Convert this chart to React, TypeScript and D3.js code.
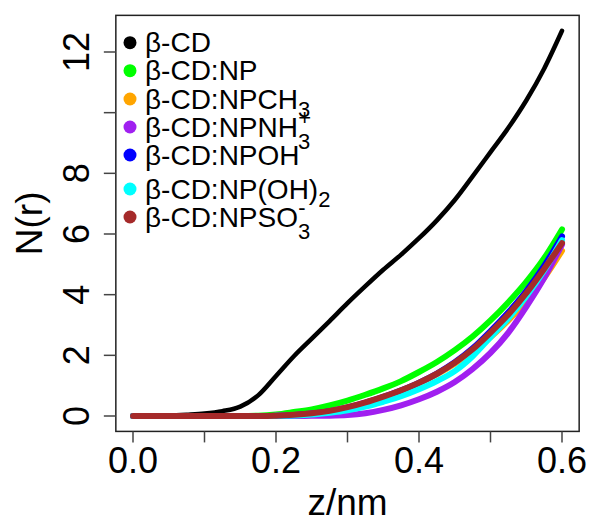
import React from 'react';
import * as d3 from 'd3';

// distance along z (nm)
const zValues = [
  0, 0.025, 0.05, 0.075, 0.1, 0.125, 0.15, 0.175, 0.2, 0.225, 0.25, 0.275, 0.3,
  0.325, 0.35, 0.375, 0.4, 0.425, 0.45, 0.475, 0.5, 0.525, 0.55, 0.575, 0.6,
];

// N(r) for each system
const nBCD = [
  0, 0, 0.01, 0.04, 0.08, 0.16, 0.31, 0.68, 1.32, 1.97, 2.55, 3.13, 3.72,
  4.28, 4.82, 5.32, 5.86, 6.45, 7.12, 7.9, 8.7, 9.5, 10.4, 11.45, 12.7,
];
const nNP = [
  0, 0, 0, 0, 0, 0, 0, 0.01, 0.05, 0.13, 0.22, 0.35, 0.51,
  0.7, 0.91, 1.15, 1.45, 1.78, 2.17, 2.62, 3.15, 3.75, 4.42, 5.2, 6.15,
];
const nNPCH3 = [
  0, 0, 0, 0, 0, 0, 0, 0, 0.01, 0.03, 0.08, 0.15, 0.26,
  0.41, 0.6, 0.82, 1.07, 1.37, 1.72, 2.13, 2.6, 3.15, 3.8, 4.55, 5.45,
];
const nNPNH3 = [
  0, 0, 0, 0, 0, 0, 0, 0, 0, 0, 0.005, 0.01, 0.03,
  0.09, 0.2, 0.35, 0.55, 0.8, 1.12, 1.55, 2.08, 2.75, 3.6, 4.55, 5.65,
];
const nNPOH = [
  0, 0, 0, 0, 0, 0, 0, 0, 0.01, 0.03, 0.08, 0.16, 0.28,
  0.44, 0.63, 0.85, 1.1, 1.4, 1.77, 2.23, 2.8, 3.42, 4.12, 4.95, 5.92,
];
const nNPOH2 = [
  0, 0, 0, 0, 0, 0, 0, 0, 0.005, 0.02, 0.05, 0.11, 0.19,
  0.31, 0.47, 0.65, 0.88, 1.15, 1.48, 1.97, 2.6, 3.22, 3.95, 4.8, 5.8,
];
const nNPSO3 = [
  0, 0, 0, 0, 0, 0, 0, 0, 0.01, 0.04, 0.09, 0.17, 0.29,
  0.45, 0.64, 0.85, 1.1, 1.4, 1.76, 2.2, 2.75, 3.35, 4.05, 4.85, 5.7,
];

const seriesColors = ['black', '#00ff00', '#ffa500', '#a020f0', '#0000ff', '#00ffff', '#a52a2a'];

// legend text: [main, subscript, superscript]
const legendLabels: [string, string, string][] = [
  ['β-CD', '', ''],
  ['β-CD:NP', '', ''],
  ['β-CD:NPCH', '3', ''],
  ['β-CD:NPNH', '3', '+'],
  ['β-CD:NPOH', '', ''],
  ['β-CD:NP(OH)', '2', ''],
  ['β-CD:NPSO', '3', '-'],
];

const xTicks = [0, 0.1, 0.2, 0.3, 0.4, 0.5, 0.6];
const xTickLabels = ['0.0', '', '0.2', '', '0.4', '', '0.6'];
const yTicks = [0, 2, 4, 6, 8, 10, 12];
const yTickLabels = ['0', '2', '4', '6', '8', '', '12'];

const series = [nBCD, nNP, nNPCH3, nNPNH3, nNPOH, nNPOH2, nNPSO3];

const W = 590;
const H = 522;
const font = "'Liberation Sans', Arial, Helvetica, sans-serif";

export default function App() {
  const x = d3.scaleLinear().domain([0, 0.6]).range([133, 562]);
  const y = d3.scaleLinear().domain([0, 12]).range([416, 52]);
  const yMax = 12.7;
  const left = x(-0.024);
  const right = x(0.624);
  const top = y(yMax * 1.04);
  const bottom = y(-yMax * 0.04);

  const line = d3
    .line<number>()
    .x((_, i) => x(zValues[i]))
    .y((d) => y(d))
    .curve(d3.curveMonotoneX);

  const legendY = [42.7, 70.7, 99, 127, 155, 189, 217];

  return (
    <svg
      width={W}
      height={H}
      style={{ position: 'absolute', left: 0, top: 0, background: 'white' }}
      fontFamily={font}
    >
      {series.map((s, i) => (
        <path
          key={i}
          d={line(s) || ''}
          fill="none"
          stroke={seriesColors[i]}
          strokeWidth={i === 0 ? 4.5 : 6}
          strokeLinecap="round"
          strokeLinejoin="round"
        />
      ))}

      <rect
        x={left}
        y={top}
        width={right - left}
        height={bottom - top}
        fill="none"
        stroke="#222"
        strokeWidth={1.5}
      />

      {/* x axis */}
      {xTicks.map((t, i) => (
        <g key={i}>
          <line x1={x(t)} x2={x(t)} y1={bottom} y2={bottom + 11} stroke="#444" strokeWidth={1.5} />
          <text x={x(t)} y={473} textAnchor="middle" fontSize={36}>
            {xTickLabels[i]}
          </text>
        </g>
      ))}
      <text x={(left + right) / 2} y={515} textAnchor="middle" fontSize={37}>
        z/nm
      </text>

      {/* y axis */}
      {yTicks.map((t, i) => (
        <g key={i}>
          <line x1={left - 12} x2={left} y1={y(t)} y2={y(t)} stroke="#444" strokeWidth={1.5} />
          <text
            transform={`translate(89,${y(t)}) rotate(-90)`}
            textAnchor="middle"
            fontSize={36}
          >
            {yTickLabels[i]}
          </text>
        </g>
      ))}
      <text
        transform={`translate(42,${(top + bottom) / 2}) rotate(-90)`}
        textAnchor="middle"
        fontSize={37}
      >
        N(r)
      </text>

      {/* legend */}
      {legendLabels.map(([main, sub, sup], i) => {
        const cy = legendY[i];
        const base = cy + 9.5;
        const stacked = sub && sup;
        return (
          <g key={i}>
            <circle cx={130} cy={cy} r={6.5} fill={seriesColors[i]} />
            <text x={145} y={base} fontSize={28}>
              {main}
              {sub && (
                <tspan fontSize={22} dy={stacked ? 12 : 8}>
                  {sub}
                </tspan>
              )}
              {sup && (
                <tspan fontSize={22} dx={-12} dy={stacked ? -24 : -18}>
                  {sup}
                </tspan>
              )}
            </text>
          </g>
        );
      })}
    </svg>
  );
}
